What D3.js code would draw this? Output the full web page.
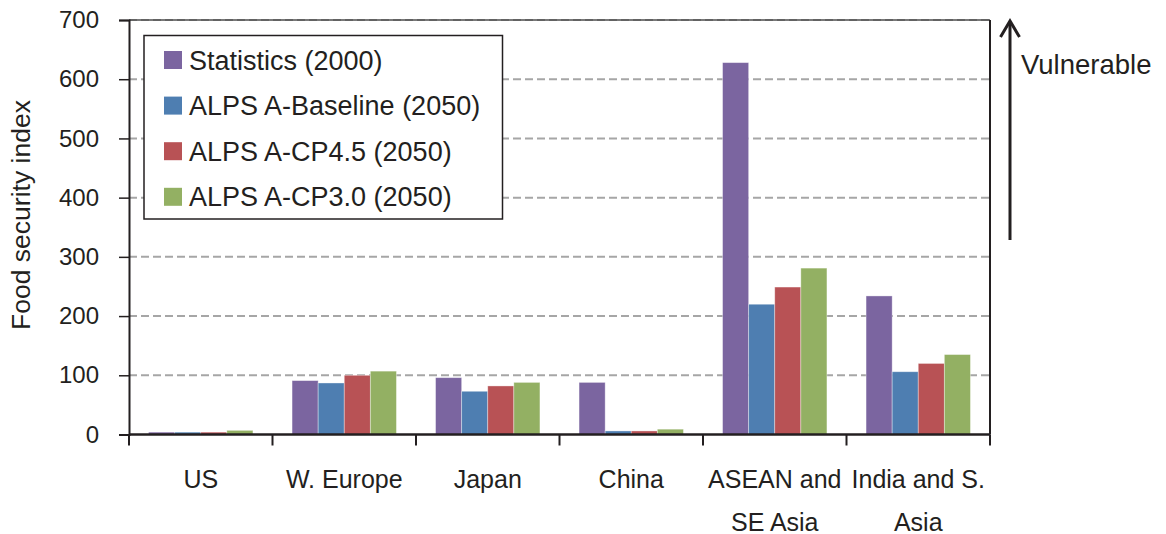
<!DOCTYPE html>
<html>
<head>
<meta charset="utf-8">
<script src="https://cdn.jsdelivr.net/npm/d3@7"></script>
<style>
  html, body { margin: 0; padding: 0; background: #fff; }
  svg { display: block; font-family: "Liberation Sans", Arial, sans-serif; }
</style>
</head>
<body>
<svg id="chart" width="1166" height="534"></svg>
<script>
const categories = [["US"], ["W. Europe"], ["Japan"], ["China"], ["ASEAN and", "SE Asia"], ["India and S.", "Asia"]];
const seriesNames = ["Statistics (2000)", "ALPS A-Baseline (2050)", "ALPS A-CP4.5 (2050)", "ALPS A-CP3.0 (2050)"];
const statistics2000 = [4, 91, 96, 88, 628, 234];
const baseline2050 = [4, 87, 73, 6, 220, 106];
const cp45_2050 = [4, 100, 82, 6, 249, 120];
const cp30_2050 = [7, 107, 88, 9, 281, 135];
const yTicks = [0, 100, 200, 300, 400, 500, 600, 700];
const colors = ["#7B65A0", "#4E7EB1", "#B85255", "#93B063"];

const seriesValues = [statistics2000, baseline2050, cp45_2050, cp30_2050];
const catKeys = categories.map(c => c.join(" "));

const svg = d3.select("#chart");
const pL = 129, pR = 990, pT = 20, pB = 434.5;

const x = d3.scaleBand().domain(catKeys).range([pL, pR]).padding(0);
const W = x.bandwidth();
const barW = W / 5.5;
const xs = d3.scaleBand().domain(d3.range(4)).range([(W - 4 * barW) / 2, (W + 4 * barW) / 2]).padding(0);
const y = d3.scaleLinear().domain([0, 700]).range([pB, pT]);

const axisColor = "#231F20";

// gridlines
svg.append("g").selectAll("line").data(yTicks.filter(d => d > 0)).join("line")
  .attr("x1", pL).attr("x2", pR)
  .attr("y1", d => y(d)).attr("y2", d => y(d))
  .attr("stroke", "#A6A6A6").attr("stroke-width", 2).attr("stroke-dasharray", "8,4");

// bars
const groups = svg.append("g").selectAll("g").data(seriesValues).join("g")
  .attr("fill", (d, i) => colors[i]);
groups.selectAll("rect").data((vals, si) => vals.map((v, ci) => ({ v, ci, si }))).join("rect")
  .attr("x", d => x(catKeys[d.ci]) + xs(d.si))
  .attr("width", xs.bandwidth())
  .attr("y", d => y(d.v))
  .attr("height", d => y(0) - y(d.v))
  .attr("stroke", "rgba(255,255,255,0.45)").attr("stroke-width", 0.8);

// frame (top and right)
svg.append("line").attr("x1", pL).attr("x2", pR).attr("y1", pT).attr("y2", pT)
  .attr("stroke", "#4D4D4D").attr("stroke-width", 1.5);
svg.append("line").attr("x1", pR).attr("x2", pR).attr("y1", pT).attr("y2", pB)
  .attr("stroke", axisColor).attr("stroke-width", 2);

// y axis
const yAxis = svg.append("g").attr("transform", `translate(${pL},0)`)
  .call(d3.axisLeft(y).tickValues(yTicks).tickSize(10).tickPadding(20));
yAxis.select(".domain").attr("stroke", axisColor).attr("stroke-width", 2);
yAxis.selectAll(".tick line").attr("stroke", axisColor).attr("stroke-width", 1.5);
yAxis.selectAll(".tick text").attr("font-size", 24).attr("fill", "#231F20")
  .attr("font-family", "Liberation Sans, Arial, sans-serif");

// x axis (ticks at category boundaries)
const boundaries = catKeys.map(k => x(k)).concat([pR]);
svg.append("line").attr("x1", pL).attr("x2", pR).attr("y1", pB).attr("y2", pB)
  .attr("stroke", axisColor).attr("stroke-width", 2.5);
svg.append("g").selectAll("line").data(boundaries).join("line")
  .attr("x1", d => d).attr("x2", d => d).attr("y1", pB).attr("y2", pB + 11)
  .attr("stroke", axisColor).attr("stroke-width", 2);

// category labels
const catLabels = svg.append("g").selectAll("text").data(categories).join("text")
  .attr("x", (d, i) => x(catKeys[i]) + W / 2)
  .attr("y", 488)
  .attr("text-anchor", "middle").attr("font-size", 25).attr("fill", "#231F20");
catLabels.selectAll("tspan").data(d => d).join("tspan")
  .attr("x", function() { return d3.select(this.parentNode).attr("x"); })
  .attr("dy", (d, i) => i === 0 ? 0 : 43)
  .text(d => d);

// y title
svg.append("text").attr("transform", "translate(30,215) rotate(-90)")
  .attr("text-anchor", "middle").attr("font-size", 26.5).attr("fill", "#231F20")
  .text("Food security index");

// legend
const lg = svg.append("g");
lg.append("rect").attr("x", 144).attr("y", 35.5).attr("width", 358.5).attr("height", 183.5)
  .attr("fill", "#fff").attr("stroke", "#231F20").attr("stroke-width", 1.5);
const items = lg.selectAll("g").data(seriesNames).join("g")
  .attr("transform", (d, i) => `translate(164,${60 + i * 45.6})`);
items.append("rect").attr("x", 0).attr("y", -9).attr("width", 18).attr("height", 18)
  .attr("fill", (d, i) => colors[i]);
items.append("text").attr("x", 25).attr("y", 9.5).attr("font-size", 27).attr("fill", "#231F20")
  .text(d => d);

// arrow + Vulnerable
svg.append("line").attr("x1", 1010).attr("x2", 1010).attr("y1", 240).attr("y2", 24)
  .attr("stroke", "#231F20").attr("stroke-width", 3);
svg.append("path").attr("d", "M1000.5,37 L1010,21 L1019.5,37")
  .attr("fill", "none").attr("stroke", "#231F20").attr("stroke-width", 3);
svg.append("text").attr("x", 1021).attr("y", 74).attr("font-size", 27.5).attr("fill", "#231F20")
  .text("Vulnerable");
</script>
</body>
</html>
